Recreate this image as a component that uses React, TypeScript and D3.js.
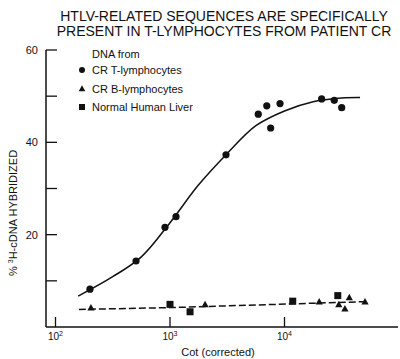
import React from "react";
import * as d3 from "d3";

const titleLines = [
  "HTLV-RELATED SEQUENCES ARE SPECIFICALLY",
  "PRESENT IN T-LYMPHOCYTES FROM PATIENT CR",
];

// CR T-lymphocytes
const tCot = [200, 505, 904, 1128, 3083, 5900, 7000, 7570, 9140, 21100, 27200, 31600];
const tPct = [8.2, 14.3, 21.6, 23.9, 37.3, 46.1, 47.9, 43.1, 48.4, 49.4, 49.1, 47.5];

// CR B-lymphocytes
const bCot = [204, 2025, 20100, 29800, 33700, 36800, 50500];
const bPct = [4.2, 4.9, 5.5, 4.9, 4.0, 6.4, 5.5];

// Normal human liver
const lCot = [1000, 1497, 11800, 29200];
const lPct = [4.9, 3.3, 5.6, 6.8];

// fitted curve (solid)
const fitCot = [158, 316, 562, 1000, 1778, 3162, 5623, 10000, 17783, 31623, 45700];
const fitPct = [6.7, 10.9, 15.2, 22.6, 30.8, 37.6, 43.6, 46.8, 48.8, 49.6, 49.7];

// dashed baseline
const dashCot = [160, 1000, 52000];
const dashPct = [3.8, 4.2, 5.5];

const xTicks = [100, 1000, 10000];
const xTickExp = ["2", "3", "4"];
const yTicks = [10, 20, 30, 40, 50, 60];
const yTickLabels = [20, 40, 60];

const legendItems = ["CR T-lymphocytes", "CR B-lymphocytes", "Normal Human Liver"];

export default function App() {
  const W = 400;
  const H = 359;
  const x = d3.scaleLog().domain([100, 10000]).range([55.5, 284.5]);
  const y = d3.scaleLinear().domain([0, 60]).range([327, 50]);
  const axisX0 = 46;
  const axisX1 = 398;
  const font = "'Liberation Sans', Arial, Helvetica, sans-serif";

  const line = d3
    .line<[number, number]>()
    .x((d) => x(d[0]))
    .y((d) => y(d[1]))
    .curve(d3.curveCatmullRom.alpha(0.5));
  const fitPath = line(fitCot.map((c, i) => [c, fitPct[i]]) as [number, number][]) || "";
  const dashPath =
    d3
      .line<[number, number]>()
      .x((d) => x(d[0]))
      .y((d) => y(d[1]))(dashCot.map((c, i) => [c, dashPct[i]]) as [number, number][]) || "";

  const tri = (cx: number, cy: number, s: number) =>
    `M${cx},${cy - s} L${cx + s},${cy + s * 0.8} L${cx - s},${cy + s * 0.8} Z`;

  return (
    <svg
      width={W}
      height={H}
      style={{ position: "absolute", left: 0, top: 0, background: "#fff" }}
      fontFamily={font}
    >
      <rect x={0} y={0} width={W} height={H} fill="#fff" />
      {titleLines.map((t, i) => (
        <text
          key={i}
          x={224}
          y={21 + i * 14.5}
          textAnchor="middle"
          fontSize={14}
          fill="#111"
        >
          {t}
        </text>
      ))}

      {/* axes */}
      <line x1={axisX0} y1={y(60)} x2={axisX0} y2={y(0)} stroke="#111" strokeWidth={1.5} />
      <line x1={axisX0} y1={y(0)} x2={axisX1} y2={y(0)} stroke="#111" strokeWidth={1.5} />
      {yTicks.map((t) => (
        <line
          key={t}
          x1={axisX0}
          x2={axisX0 + 11}
          y1={y(t)}
          y2={y(t)}
          stroke="#111"
          strokeWidth={1.3}
        />
      ))}
      {yTickLabels.map((t) => (
        <text key={t} x={38} y={y(t) + 4} textAnchor="end" fontSize={11} fill="#111">
          {t}
        </text>
      ))}
      {xTicks.map((t, i) => (
        <g key={t}>
          <line
            x1={x(t)}
            x2={x(t)}
            y1={y(0)}
            y2={y(0) - 10}
            stroke="#111"
            strokeWidth={1.3}
          />
          <text x={x(t)} y={y(0) + 13} textAnchor="middle" fontSize={10} fill="#111">
            10
            <tspan dy={-4} fontSize={7}>
              {xTickExp[i]}
            </tspan>
          </text>
        </g>
      ))}
      <text x={218} y={356} textAnchor="middle" fontSize={11} fill="#111">
        Cot (corrected)
      </text>
      <text
        transform={`translate(17,${213}) rotate(-90)`}
        textAnchor="middle"
        fontSize={11}
        fill="#111"
      >
        %{" "}
        <tspan dy={-4} fontSize={7}>
          3
        </tspan>
        <tspan dy={4}>H-cDNA HYBRIDIZED</tspan>
      </text>

      {/* legend */}
      <text x={92} y={58} fontSize={11} fill="#111">
        DNA from
      </text>
      {legendItems.map((s, i) => {
        const ly = 74 + i * 18.5;
        const mx = 82;
        const my = ly - 4;
        return (
          <g key={s}>
            {i === 0 && <circle cx={mx} cy={my} r={3} fill="#111" />}
            {i === 1 && <path d={tri(mx, my, 3.3)} fill="#111" />}
            {i === 2 && <rect x={mx - 3} y={my - 3} width={6} height={6} fill="#111" />}
            <text x={92} y={ly} fontSize={11} fill="#111">
              {s}
            </text>
          </g>
        );
      })}

      {/* curves */}
      <path d={fitPath} fill="none" stroke="#111" strokeWidth={1.5} />
      <path d={dashPath} fill="none" stroke="#111" strokeWidth={1.5} strokeDasharray="7,3" />

      {/* points */}
      {tCot.map((c, i) => (
        <circle key={"t" + i} cx={x(c)} cy={y(tPct[i])} r={3.6} fill="#111" />
      ))}
      {bCot.map((c, i) => (
        <path key={"b" + i} d={tri(x(c), y(bPct[i]), 3.6)} fill="#111" />
      ))}
      {lCot.map((c, i) => (
        <rect
          key={"l" + i}
          x={x(c) - 3.5}
          y={y(lPct[i]) - 3.5}
          width={7}
          height={7}
          fill="#111"
        />
      ))}
    </svg>
  );
}
